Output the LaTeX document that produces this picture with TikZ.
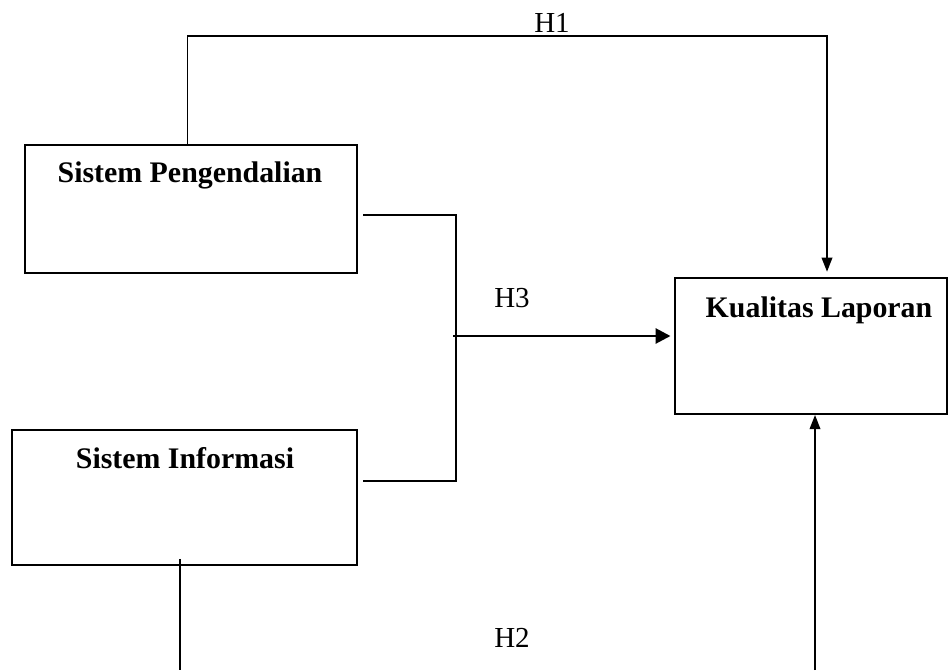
\documentclass[tikz,border=0pt]{standalone}
\usepackage{fontspec}
\setmainfont{Liberation Serif}
\usetikzlibrary{arrows.meta,positioning}

\begin{document}
\begin{tikzpicture}[x=0.02cm,y=-0.02cm,
  box/.style={draw,line width=1.1pt,inner sep=0pt},
  title/.style={font=\fontsize{17}{20}\selectfont\bfseries,anchor=base},
  hlabel/.style={font=\fontsize{16.5}{19}\selectfont,anchor=base},
  link/.style={line width=1pt},
  tip/.style={-{Triangle[length=8pt,width=6pt]}},
  bigtip/.style={line width=1.6pt,-{Triangle[length=8.5pt,width=8.5pt]}}]
\useasboundingbox (0,0) rectangle (949,670);
% boxes
\node[box,minimum width=332*0.02cm,minimum height=128*0.02cm] (sp) at (191,209) {};
\node[box,minimum width=345*0.02cm,minimum height=135*0.02cm] (si) at (184.5,497.5) {};
\node[box,minimum width=272*0.02cm,minimum height=136*0.02cm] (kl) at (811,346) {};
\node[title] (spt) at (190,182) {Sistem Pengendalian};
\node[title] (sit) at (185,468) {Sistem Informasi};
\node[title] (klt) at (819,317) {Kualitas Laporan};
% H1
\coordinate (h1) at (827,36);
\draw[link,tip,shorten >=3pt] ([xshift=-2pt]sp.north) |- (h1) -- (kl.north -| h1);
\node[hlabel] (h1l) at (552,32) {H1};
% H3
\coordinate (jt) at (456,215);
\coordinate (jb) at (456,481);
\coordinate (j) at (453,336);
\draw[link] ([xshift=3pt]sp.east |- jt) -- (jt) -- (jb) -- ([xshift=3pt]si.east |- jb);
\draw[bigtip,shorten >=2pt] (j) -- (kl.west |- j);
\node[hlabel] (h3l) at (512,307) {H3};
% H2
\coordinate (b1) at (180,670);
\coordinate (b2) at (815,670);
\draw[link] ([yshift=4pt]si.south -| b1) -- (b1);
\draw[link,tip] (b2) -- (kl.south -| b2);
\node[hlabel] (h2l) at (512,647) {H2};
\end{tikzpicture}
\end{document}
